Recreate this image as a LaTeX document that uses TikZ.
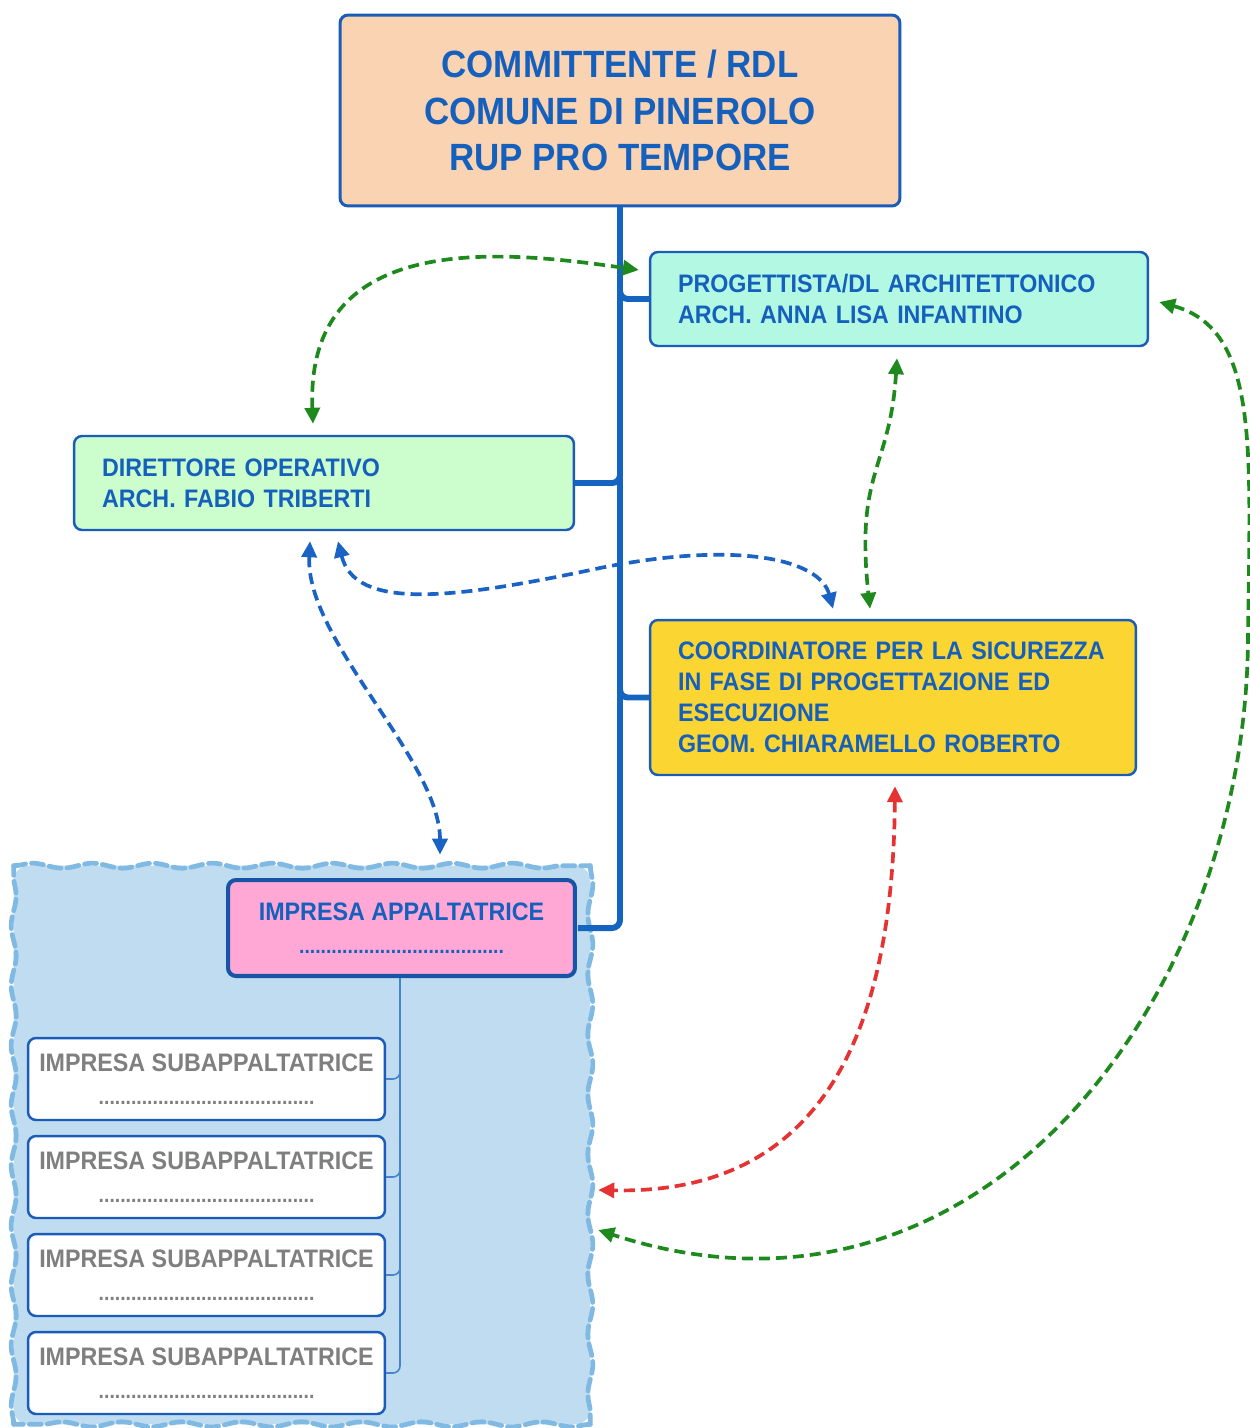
\documentclass[tikz,border=0pt]{standalone}
\usepackage{fontspec}
\setmainfont{Liberation Sans}
\newfontfamily\orgfont{Liberation Sans}[FakeStretch=0.92]
\usetikzlibrary{arrows.meta,decorations.pathmorphing}
\definecolor{boxBlue}{HTML}{1A5CB8}
\definecolor{txtBlue}{HTML}{1560BD}
\definecolor{trunkBlue}{HTML}{1565C0}
\definecolor{peachFill}{HTML}{F9D3B2}
\definecolor{aquaFill}{HTML}{B3F8E3}
\definecolor{mintFill}{HTML}{CCFDCC}
\definecolor{yellowFill}{HTML}{FBD532}
\definecolor{pinkFill}{HTML}{FFA8D5}
\definecolor{grpFill}{HTML}{BFDCF0}
\definecolor{grpEdge}{HTML}{80BAE3}
\definecolor{subGray}{HTML}{7F7F7F}
\definecolor{arrGreen}{HTML}{1E8A1E}
\definecolor{arrBlue}{HTML}{1A62C4}
\definecolor{arrRed}{HTML}{E53232}
\tikzset{
orgbox/.style={rectangle, rounded corners=0.16cm, draw=boxBlue, line width=1.4pt, text=txtBlue, inner xsep=0.56cm, inner ysep=0pt, font=\orgfont\bfseries\fontsize{14.4pt}{17.6pt}\selectfont},
topbox/.style={orgbox, fill=peachFill, line width=1.7pt, minimum width=11.2cm, minimum height=3.82cm, align=center, font=\orgfont\bfseries\fontsize{21.6pt}{26.7pt}\selectfont},
progbox/.style={orgbox, fill=aquaFill, text width=8.84cm, minimum height=1.88cm, align=left},
dirbox/.style={orgbox, fill=mintFill, text width=8.88cm, minimum height=1.88cm, align=left},
coordbox/.style={orgbox, fill=yellowFill, text width=8.6cm, minimum height=3.1cm, align=left},
impbox/.style={orgbox, fill=pinkFill, line width=2.3pt, draw=boxBlue!90!black, minimum width=6.94cm, minimum height=1.92cm, align=center},
subbox/.style={orgbox, fill=white, text=subGray, minimum width=7.14cm, minimum height=1.64cm, inner xsep=0pt, align=center},
grpbox/.style={rectangle, minimum width=11.52cm, minimum height=11.16cm, inner sep=0pt},
grpedge/.style={draw=grpEdge, line width=2.7pt, line cap=round, dash pattern=on 0.24cm off 0.12cm, decorate, decoration={snake, amplitude=0.05cm, segment length=1.2cm}},
trunk/.style={draw=trunkBlue, line width=3.4pt, rounded corners=0.16cm},
subline/.style={draw=trunkBlue!80, line width=0.9pt, rounded corners=0.14cm},
link/.style={{Triangle[length=0.32cm,width=0.3cm]}-{Triangle[length=0.32cm,width=0.3cm]}, line width=2.1pt, dash pattern=on 0.22cm off 0.12cm}
}
\newcommand{\dotsimp}{{\fontsize{12pt}{14pt}\selectfont ......................................}}
\newcommand{\dotssub}{{\fontsize{12pt}{14pt}\selectfont ........................................}}

\begin{document}
\begin{tikzpicture}[x=0.02cm, y=-0.02cm]
\useasboundingbox (0,0) rectangle (1250,1428);
% group of companies
\node[grpbox] (grp) at (302,1145) {};
\fill[grpFill, rounded corners=0.3cm] (grp.north west) rectangle (grp.south east);
\foreach \a/\b in {north west/north east, north east/south east, south east/south west, south west/north west}{
\draw[grpedge] (grp.\a) -- (grp.\b);
}
% boxes
\node[topbox] (top) at (620,110.5) {COMMITTENTE / RDL\\COMUNE DI PINEROLO\\RUP PRO TEMPORE};
\node[progbox] (prog) at (899,299) {PROGETTISTA/DL ARCHITETTONICO\\ARCH. ANNA LISA INFANTINO};
\node[dirbox] (dir) at (324,483) {DIRETTORE OPERATIVO\\ARCH. FABIO TRIBERTI};
\node[coordbox] (coord) at (893,697.5) {COORDINATORE PER LA SICUREZZA\\IN FASE DI PROGETTAZIONE ED\\ESECUZIONE\\GEOM. CHIARAMELLO ROBERTO};
\node[impbox] (imp) at (401.5,928) {IMPRESA APPALTATRICE\\[1pt]\dotsimp};
\foreach \i/\y in {1/1079,2/1177,3/1275,4/1373}{
\node[subbox] (sub\i) at (206.5,\y) {IMPRESA SUBAPPALTATRICE\\[1pt]\dotssub};
}
% hierarchy lines
\draw[trunk] (top.south) |- (prog.west);
\draw[trunk] (top.south) |- (dir.east);
\draw[trunk] (top.south) |- (coord.west);
\draw[trunk] (top.south) |- ([xshift=0.02cm]imp.east);
\foreach \i in {1,...,4}{
\draw[subline] ([xshift=-0.03cm]imp.south) |- (sub\i.east);
}
% relations
\draw[link, arrGreen] ([shift={(-11,-11)}]dir.north) .. controls (305,230) and (500,250) .. ([shift={(-10,-29)}]prog.west);
\draw[link, arrGreen] ([shift={(-2,11)}]prog.south) .. controls (890,470) and (855,470) .. ([shift={(-23,-10)}]coord.north);
\draw[link, arrBlue] ([shift={(14,10)}]dir.south) .. controls (355,610) and (450,600) .. (600,568) .. controls (740,540) and (820,560) .. ([shift={(-60,-10)}]coord.north);
\draw[link, arrBlue] ([shift={(-14,10)}]dir.south) .. controls (305,640) and (440,760) .. ([shift={(138,-11)}]grp.north);
\draw[link, arrRed] ([shift={(2,10)}]coord.south) .. controls (893,1020) and (830,1195) .. ([shift={(8,45)}]grp.east);
\draw[link, arrGreen] ([shift={(10,3)}]prog.east) .. controls (1260,330) and (1250,450) .. (1248,640) .. controls (1245,1000) and (980,1355) .. ([shift={(8,85)}]grp.east);
\end{tikzpicture}
\end{document}
